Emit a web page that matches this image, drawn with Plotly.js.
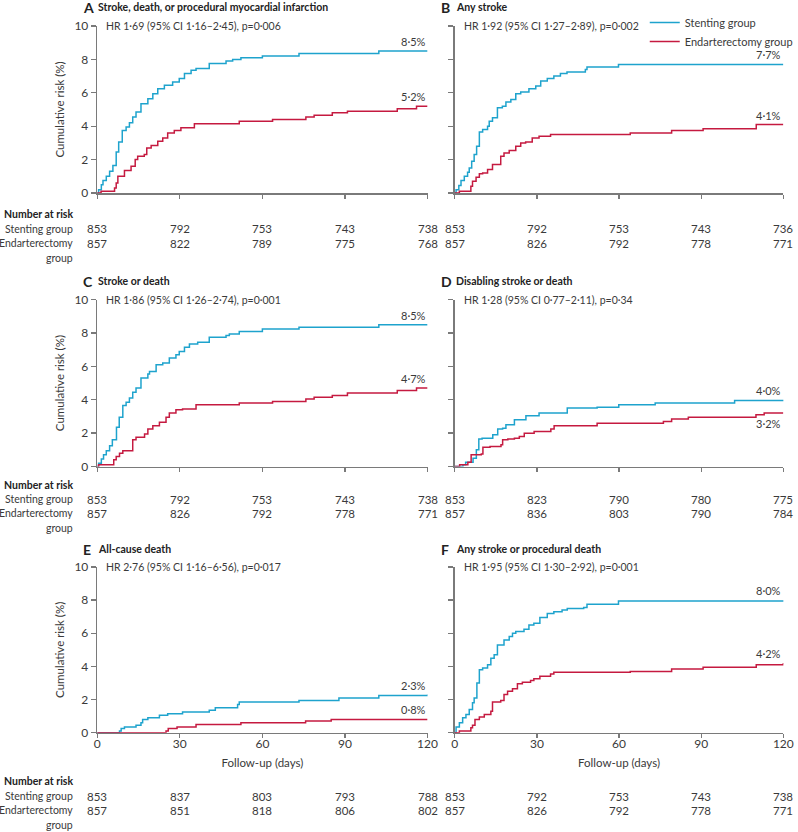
<!DOCTYPE html>
<html>
<head>
<meta charset="utf-8">
<script src="https://cdn.plot.ly/plotly-3.0.1.min.js"></script>
<style>
  body { margin: 0; background: #fff; }
  #chart { width: 798px; height: 832px; }
</style>
</head>
<body>
<div id="chart"></div>
<script>
// follow-up ticks (days) where number at risk is given
const riskDays = [0, 30, 60, 90, 120];

// A  Stroke, death, or procedural myocardial infarction
const aStentDays = [0, 0.5, 1.5, 2.1, 3.3, 4.5, 5.7, 6.9, 7.8, 9.1, 10.5, 11.7, 12.9, 14.1, 15.9, 18.4, 20.2, 22, 24.4, 27.4, 29.8, 31.7, 34.1, 35.9, 40.7, 46.8, 49.2, 52.2, 60, 73.3, 102.3, 120];
const aStentRisk = [0, 0.2, 0.5, 0.75, 1.0, 1.3, 1.65, 2.45, 3.05, 3.75, 3.95, 4.2, 4.55, 4.85, 5.35, 5.65, 5.95, 6.25, 6.45, 6.65, 6.85, 7.15, 7.35, 7.45, 7.75, 7.9, 8.0, 8.1, 8.2, 8.35, 8.5, 8.5];
const aEndDays = [0, 1.4, 6.3, 6.9, 7.5, 9.9, 12.3, 13.8, 14.7, 17.1, 18, 19.6, 22, 23.8, 25.6, 28, 30.4, 35.3, 51.6, 63.7, 75.8, 78.8, 85.4, 90.9, 109, 116, 120];
const aEndRisk = [0, 0.1, 0.3, 0.6, 1.0, 1.35, 1.6, 2.0, 2.2, 2.3, 2.7, 2.85, 3.1, 3.3, 3.6, 3.75, 3.9, 4.15, 4.3, 4.4, 4.55, 4.65, 4.8, 4.9, 5.05, 5.2, 5.2];
const aAtRiskStent = [853, 792, 753, 743, 738];
const aAtRiskEnd = [857, 822, 789, 775, 768];

// B  Any stroke
const bStentDays = [0, 0.5, 1.5, 2.3, 3.5, 4.7, 5.3, 6.2, 7.1, 8, 9, 10.2, 12, 12.6, 13.8, 15.6, 17.4, 18.7, 20.5, 22.3, 24.1, 27.1, 29.6, 31.4, 33.8, 36.2, 38.6, 41, 47.7, 48.3, 59.8, 120];
const bStentRisk = [0, 0.2, 0.45, 0.75, 1.0, 1.25, 1.5, 1.9, 2.3, 2.8, 3.65, 3.8, 4.0, 4.3, 4.5, 5.1, 5.2, 5.45, 5.6, 5.95, 6.05, 6.25, 6.4, 6.7, 6.85, 7.0, 7.15, 7.25, 7.4, 7.55, 7.7, 7.7];
const bEndDays = [0, 1.7, 5.9, 6.5, 7.8, 9, 10.2, 12, 13.8, 16.8, 18, 19.9, 22.3, 24.1, 25.9, 28.3, 30.8, 35, 64.1, 79.2, 90.7, 110.1, 120];
const bEndRisk = [0, 0.1, 0.4, 0.7, 0.95, 1.15, 1.2, 1.4, 1.7, 2.2, 2.4, 2.55, 2.8, 3.0, 3.05, 3.3, 3.4, 3.5, 3.6, 3.75, 3.85, 4.1, 4.1];
const bAtRiskStent = [853, 792, 753, 743, 736];
const bAtRiskEnd = [857, 826, 792, 778, 771];

// C  Stroke or death
const cStentDays = [0, 0.5, 1.5, 2.3, 3.3, 4.5, 5.5, 7, 8, 9.3, 10.5, 11.7, 12.9, 14.1, 15.9, 18.4, 19, 21.4, 23.8, 26.2, 28.6, 29.8, 31.7, 33.5, 36.5, 40.7, 46.8, 48, 51.6, 60, 73.3, 102.3, 120];
const cStentRisk = [0, 0.2, 0.45, 0.7, 0.95, 1.25, 1.6, 2.35, 2.95, 3.65, 3.85, 4.1, 4.45, 4.7, 5.3, 5.55, 5.7, 6.1, 6.2, 6.5, 6.7, 6.9, 7.15, 7.35, 7.45, 7.75, 7.85, 7.95, 8.1, 8.25, 8.35, 8.5, 8.5];
const cEndDays = [0, 0.5, 6, 6.9, 8.1, 9.3, 12.9, 14.1, 17.2, 18.4, 20.2, 22.6, 25, 26.2, 28.6, 31, 35.9, 51.6, 63.7, 75.8, 78.8, 85.4, 90.9, 109, 116, 120];
const cEndRisk = [0, 0.1, 0.4, 0.6, 0.8, 0.95, 1.6, 1.75, 1.95, 2.25, 2.45, 2.65, 2.95, 3.2, 3.4, 3.45, 3.7, 3.8, 3.9, 4.05, 4.15, 4.25, 4.4, 4.55, 4.7, 4.7];
const cAtRiskStent = [853, 792, 753, 743, 738];
const cAtRiskEnd = [857, 826, 792, 778, 771];

// D  Disabling stroke or death
const dStentDays = [0, 3, 4, 6.7, 7.9, 8.8, 10, 13.9, 15.7, 17.5, 18.7, 21.8, 26, 30.8, 41.1, 52, 59.9, 73.2, 102.2, 120];
const dStentRisk = [0, 0.1, 0.25, 0.5, 1.0, 1.65, 1.7, 1.9, 2.25, 2.3, 2.5, 2.8, 3.05, 3.2, 3.5, 3.55, 3.7, 3.8, 3.95, 4.0];
const dEndDays = [0, 1.8, 4.8, 6, 9.7, 10.3, 12.9, 16.9, 17.5, 19.4, 21.8, 23.6, 25.4, 29, 35.1, 36.3, 52, 76.2, 79.2, 85.3, 110, 113, 120];
const dEndRisk = [0, 0.1, 0.25, 0.7, 0.75, 1.15, 1.2, 1.3, 1.6, 1.65, 1.7, 1.8, 2.0, 2.1, 2.25, 2.45, 2.6, 2.7, 2.85, 2.95, 3.1, 3.2, 3.2];
const dAtRiskStent = [853, 823, 790, 780, 775];
const dAtRiskEnd = [857, 836, 803, 790, 784];

// E  All-cause death
const eStentDays = [0, 8.1, 8.7, 9.9, 14.1, 15.9, 16.5, 18.4, 22.6, 25.6, 31, 40.7, 42.9, 51, 51.6, 73.3, 87.8, 102.3, 120];
const eStentRisk = [0, 0.1, 0.25, 0.35, 0.45, 0.6, 0.8, 0.9, 1.05, 1.15, 1.25, 1.35, 1.5, 1.7, 1.85, 1.95, 2.1, 2.25, 2.3];
const eEndDays = [0, 25, 25.8, 29, 35.9, 52.2, 75.7, 85, 120];
const eEndRisk = [0, 0.1, 0.25, 0.35, 0.5, 0.6, 0.7, 0.8, 0.8];
const eAtRiskStent = [853, 837, 803, 793, 788];
const eAtRiskEnd = [857, 851, 818, 806, 802];

// F  Any stroke or procedural death
const fStentDays = [0, 0.5, 1.7, 2.9, 4.1, 5.3, 6.5, 7.1, 8.1, 9, 10.2, 12, 13.2, 14.4, 15.6, 18, 19.9, 21.1, 22.3, 25.3, 27.1, 28.9, 31.1, 33.8, 36.2, 39.2, 41.1, 47.1, 48.3, 59.8, 120];
const fStentRisk = [0, 0.35, 0.6, 0.9, 1.1, 1.4, 1.8, 2.1, 3.0, 3.8, 3.9, 4.1, 4.5, 4.7, 5.3, 5.6, 5.8, 6.0, 6.1, 6.25, 6.5, 6.6, 6.95, 7.2, 7.3, 7.4, 7.5, 7.55, 7.75, 7.95, 8.0];
const fEndDays = [0, 1.7, 5.9, 6.5, 7.4, 9, 10.8, 13.2, 13.8, 16.8, 18, 19.3, 21.1, 22.9, 24.7, 27.7, 28.9, 31.1, 35, 36.2, 64.1, 79.2, 90.7, 110.1, 120];
const fEndRisk = [0, 0.1, 0.3, 0.45, 0.8, 0.95, 1.1, 1.3, 1.85, 1.95, 2.3, 2.5, 2.65, 2.95, 3.05, 3.15, 3.25, 3.4, 3.55, 3.65, 3.7, 3.85, 3.95, 4.1, 4.2];
const fAtRiskStent = [853, 792, 753, 743, 738];
const fAtRiskEnd = [857, 826, 792, 778, 771];

const letters = ["A", "B", "C", "D", "E", "F"];
const titles = [
    "Stroke, death, or procedural myocardial infarction",
    "Any stroke",
    "Stroke or death",
    "Disabling stroke or death",
    "All-cause death",
    "Any stroke or procedural death"
];
const hrTexts = [
    "HR 1·69 (95% CI 1·16–2·45), p=0·006",
    "HR 1·92 (95% CI 1·27–2·89), p=0·002",
    "HR 1·86 (95% CI 1·26–2·74), p=0·001",
    "HR 1·28 (95% CI 0·77–2·11), p=0·34",
    "HR 2·76 (95% CI 1·16–6·56), p=0·017",
    "HR 1·95 (95% CI 1·30–2·92), p=0·001"
];
const endLabelsStent = ["8·5%", "7·7%", "8·5%", "4·0%", "2·3%", "8·0%"];
const endLabelsEnd = ["5·2%", "4·1%", "4·7%", "3·2%", "0·8%", "4·2%"];

const W = 798, H = 832;
const BLUE = "#1ea3cd";
const RED = "#c51a40";
const TXT = "#3a3a3a";
const AX = "#7a7a7a";
const FONT = "Lato, 'Open Sans', sans-serif";

// pixel geometry of the grid
const colX = [[97.7, 429.7], [457, 787.3]];
const rowY = [[26, 193], [299.7, 466.5], [567, 732.7]];
const titleY = [7, 281, 549];
const riskRowsY = [[214, 229, 243, 258], [485, 499, 513, 528], [781, 796, 810, 825]];

const panels = [
    [aStentDays, aStentRisk, aEndDays, aEndRisk, aAtRiskStent, aAtRiskEnd],
    [bStentDays, bStentRisk, bEndDays, bEndRisk, bAtRiskStent, bAtRiskEnd],
    [cStentDays, cStentRisk, cEndDays, cEndRisk, cAtRiskStent, cAtRiskEnd],
    [dStentDays, dStentRisk, dEndDays, dEndRisk, dAtRiskStent, dAtRiskEnd],
    [eStentDays, eStentRisk, eEndDays, eEndRisk, eAtRiskStent, eAtRiskEnd],
    [fStentDays, fStentRisk, fEndDays, fEndRisk, fAtRiskStent, fAtRiskEnd]
];

function px(x) { return x / W; }
function py(y) { return 1 - y / H; }

let traces = [];
let annotations = [];
let layout = {
    width: W,
    height: H,
    margin: {l: 0, r: 0, t: 0, b: 0},
    paper_bgcolor: "#fff",
    plot_bgcolor: "#fff",
    font: {family: FONT, size: 11, color: TXT},
    showlegend: true,
    legend: {
        x: px(648), y: py(8), xanchor: "left", yanchor: "top",
        bgcolor: "rgba(0,0,0,0)", borderwidth: 0,
        font: {family: FONT, size: 11, color: TXT},
        itemwidth: 30
    }
};

panels.forEach(function(p, i) {
    let col = i % 2;
    let row = Math.floor(i / 2);
    let n = i === 0 ? "" : String(i + 1);
    let xa = "x" + n, ya = "y" + n;
    let bottom = row === 2;

    traces.push({
        x: p[0], y: p[1], xaxis: xa, yaxis: ya,
        mode: "lines", line: {shape: "hv", color: BLUE, width: 1.5},
        name: "Stenting group", showlegend: i === 1, hoverinfo: "skip"
    });
    traces.push({
        x: p[2], y: p[3], xaxis: xa, yaxis: ya,
        mode: "lines", line: {shape: "hv", color: RED, width: 1.5},
        name: "Endarterectomy group", showlegend: i === 1, hoverinfo: "skip"
    });

    layout["xaxis" + n] = {
        domain: [px(colX[col][0]), px(colX[col][1])],
        anchor: ya,
        range: [0, 120],
        tickvals: riskDays,
        ticks: "outside", ticklen: 4, tickwidth: 1.3, tickcolor: AX,
        showticklabels: bottom,
        ticklabelstandoff: -5,
        tickfont: {family: FONT, size: 12, color: TXT},
        showline: true, linecolor: AX, linewidth: 1.5,
        showgrid: false, zeroline: false, fixedrange: true,
        title: bottom ? {text: "Follow-up (days)", standoff: 9, font: {family: FONT, size: 11.5, color: TXT}} : {text: ""}
    };
    layout["yaxis" + n] = {
        domain: [py(rowY[row][1]), py(rowY[row][0])],
        anchor: xa,
        range: [0, 10],
        tickvals: [0, 2, 4, 6, 8, 10],
        ticks: "outside", ticklen: 5, tickwidth: 1.3, tickcolor: AX,
        showticklabels: col === 0,
        tickfont: {family: FONT, size: 12, color: TXT},
        showline: true, linecolor: AX, linewidth: 1.5,
        showgrid: false, zeroline: false, fixedrange: true,
        title: col === 0 ? {text: "Cumulative risk (%)", standoff: 7, font: {family: FONT, size: 11.5, color: TXT}} : {text: ""}
    };

    // panel letter and heading
    annotations.push({
        xref: "paper", yref: "paper", x: px(colX[col][0] - 16), y: py(titleY[row]),
        xanchor: "left", yanchor: "middle", showarrow: false,
        text: "<b>" + letters[i] + "</b>", font: {family: FONT, size: 14, color: "#222"}
    });
    annotations.push({
        xref: "paper", yref: "paper", x: px(colX[col][0] - 1), y: py(titleY[row]),
        xanchor: "left", yanchor: "middle", showarrow: false,
        text: "<b>" + titles[i] + "</b>", font: {family: FONT, size: 10.5, color: "#222"}
    });
    // hazard ratio line
    annotations.push({
        xref: "paper", yref: "paper", x: px(colX[col][0] + 7), y: py(rowY[row][0]),
        xanchor: "left", yanchor: "middle", showarrow: false,
        text: hrTexts[i], font: {family: FONT, size: 10.5, color: TXT}
    });
    // final cumulative risk labels
    let lastS = p[1][p[1].length - 1];
    let lastE = p[3][p[3].length - 1];
    annotations.push({
        xref: xa, yref: ya, x: 120, y: lastS,
        xanchor: "right", yanchor: "bottom", yshift: 1, showarrow: false,
        text: endLabelsStent[i], font: {family: FONT, size: 11, color: TXT}
    });
    annotations.push({
        xref: xa, yref: ya, x: 120, y: lastE,
        xanchor: "right", yanchor: i === 3 ? "top" : "bottom", yshift: i === 3 ? -2 : 1, showarrow: false,
        text: endLabelsEnd[i], font: {family: FONT, size: 11, color: TXT}
    });

    // number at risk
    let ry = riskRowsY[row];
    riskDays.forEach(function(d, k) {
        annotations.push({
            xref: xa, yref: "paper", x: d, y: py(ry[1]),
            xanchor: "center", yanchor: "middle", showarrow: false,
            text: String(p[4][k]), font: {family: FONT, size: 11.5, color: TXT}
        });
        annotations.push({
            xref: xa, yref: "paper", x: d, y: py(ry[2]),
            xanchor: "center", yanchor: "middle", showarrow: false,
            text: String(p[5][k]), font: {family: FONT, size: 11.5, color: TXT}
        });
    });
    if (col === 0) {
        const rowLabels = ["<b>Number at risk</b>", "Stenting group", "Endarterectomy", "group"];
        rowLabels.forEach(function(t, k) {
            annotations.push({
                xref: "paper", yref: "paper", x: px(75), y: py(ry[k]),
                xanchor: "right", yanchor: "middle", showarrow: false,
                text: t, font: {family: FONT, size: 10.5, color: k === 0 ? "#222" : TXT}
            });
        });
    }
});

layout.annotations = annotations;

Plotly.newPlot("chart", traces, layout, {staticPlot: true});
</script>
</body>
</html>
